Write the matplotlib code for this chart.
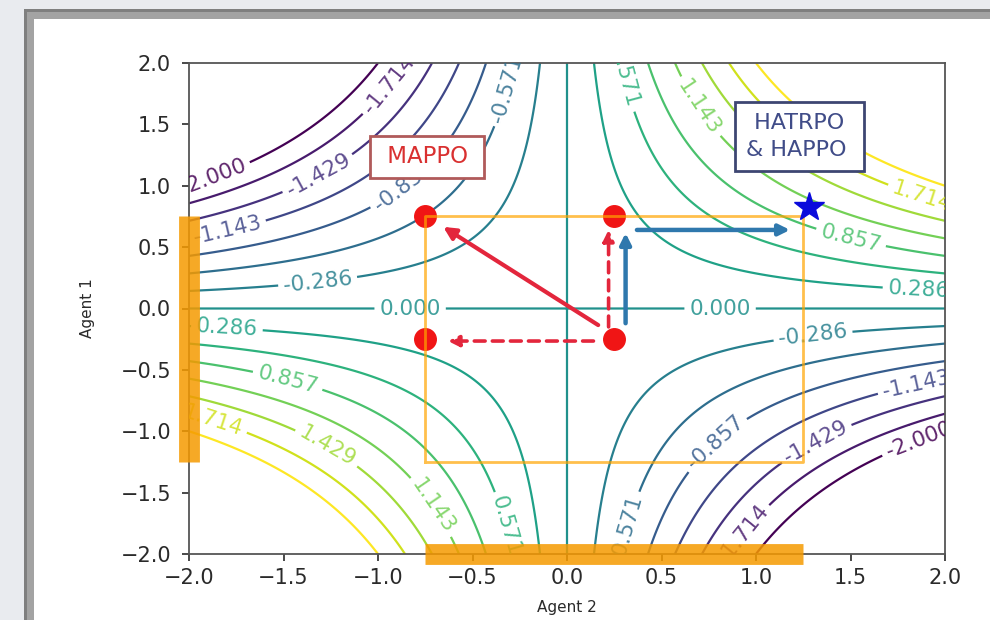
import numpy as np
import matplotlib
matplotlib.use("Agg")
import matplotlib.pyplot as plt
from matplotlib.patches import Rectangle

# ---- data ----
grid_x = np.linspace(-2, 2, 400)          # Agent 2 axis
grid_y = np.linspace(-2, 2, 400)          # Agent 1 axis
levels = np.linspace(-2, 2, 15)
ticks = [-2.0, -1.5, -1.0, -0.5, 0.0, 0.5, 1.0, 1.5, 2.0]

rect_x = [-0.75, 1.25]                    # Agent 2 trust region
rect_y = [-1.25, 0.75]                    # Agent 1 trust region

dots_x = [-0.75, 0.25, -0.75, 0.25]
dots_y = [0.75, 0.75, -0.25, -0.25]
star_x = [1.28]
star_y = [0.83]

# arrows: (tail_x, tail_y, head_x, head_y)
red_solid = [(0.165, -0.135, -0.655, 0.665)]
red_dashed = [(0.14, -0.265, -0.63, -0.265), (0.22, -0.15, 0.22, 0.64)]
blue_solid = [(0.31, -0.12, 0.31, 0.615), (0.37, 0.64, 1.18, 0.64)]

mappo_pos = (-0.74, 1.235)
hatrpo_pos = (1.23, 1.40)

label_spots = [(-1.86, 1.02), (-1.32, 1.10), (-0.92, 1.80), (-0.34, 1.80),
               (-0.85, 0.97), (-1.80, 0.66), (-1.32, 0.23), (-0.83, 0.0),
               (-1.80, -0.175), (-1.48, -0.60), (-1.27, -1.13), (-0.72, -1.62),
               (-0.34, -1.78), (-1.88, -0.95), (0.81, 0.0), (1.30, -0.20),
               (0.32, -1.80), (0.77, -1.07), (1.32, -1.10), (1.85, -0.63),
               (1.86, -1.07), (0.92, -1.83), (0.32, 1.89), (0.70, 1.64),
               (1.50, 0.56), (1.86, 0.16), (1.88, 0.92)]

# ---- figure ----
fig = plt.figure(figsize=(9.9, 6.2), dpi=100)
fig.patch.set_facecolor('#e9ebef')
W, H = 990.0, 620.0
fig.add_artist(Rectangle((24 / W, -0.1), 1.2, 1 - 9 / H + 0.1, transform=fig.transFigure,
                         facecolor='#7f7f7f', edgecolor='none', zorder=-12))
fig.add_artist(Rectangle((27 / W, -0.1), 1.2, 1 - 12 / H + 0.1, transform=fig.transFigure,
                         facecolor='#a3a3a3', edgecolor='none', zorder=-11))
fig.add_artist(Rectangle((34 / W, -0.1), 1.2, 1 - 19 / H + 0.1, transform=fig.transFigure,
                         facecolor='white', edgecolor='none', zorder=-10))

ax = fig.add_axes([189 / W, 1 - 554 / H, (945 - 189) / W, (554 - 63) / H])

X, Y = np.meshgrid(grid_x, grid_y)
Z = X * Y
cs = ax.contour(X, Y, Z, levels=levels, cmap='viridis', linewidths=1.6, zorder=1)
labels = ax.clabel(cs, fmt='%.3f', fontsize=15.5, inline=True, manual=label_spots)
for t in labels:
    t.set_alpha(0.85)

# trust region rectangle
ax.plot([rect_x[0], rect_x[1], rect_x[1], rect_x[0], rect_x[0]],
        [rect_y[0], rect_y[0], rect_y[1], rect_y[1], rect_y[0]],
        color='orange', lw=2.0, alpha=0.7, zorder=5)
# thick bars on axes
ax.plot(rect_x, [-2, -2], color='#f59a00', lw=15, alpha=0.85, solid_capstyle='butt',
        clip_on=False, zorder=6)
ax.plot([-2, -2], rect_y, color='#f59a00', lw=15, alpha=0.85, solid_capstyle='butt',
        clip_on=False, zorder=6)

# points
ax.plot(dots_x, dots_y, 'o', color='#f01515', markersize=15.5, zorder=4, linestyle='none')
ax.plot(star_x, star_y, '*', color='#0a0adc', markersize=22, zorder=7, linestyle='none')

# arrows
for tx, ty, hx, hy in red_solid:
    ax.annotate('', xy=(hx, hy), xytext=(tx, ty),
                arrowprops=dict(arrowstyle='-|>', color='#e3263c', lw=3,
                                mutation_scale=18, shrinkA=0, shrinkB=0), zorder=6)
for tx, ty, hx, hy in red_dashed:
    ax.annotate('', xy=(hx, hy), xytext=(tx, ty),
                arrowprops=dict(arrowstyle='-|>', color='#e3263c', lw=2.6, linestyle=(0, (3, 2)),
                                mutation_scale=16, shrinkA=0, shrinkB=0), zorder=6)
for tx, ty, hx, hy in blue_solid:
    ax.annotate('', xy=(hx, hy), xytext=(tx, ty),
                arrowprops=dict(arrowstyle='-|>', color='#2f78ad', lw=3.2,
                                mutation_scale=16, shrinkA=0, shrinkB=0), zorder=6)

# labels in boxes
ax.text(mappo_pos[0], mappo_pos[1], ' MAPPO ', color='#d93030', fontsize=16.5,
        ha='center', va='center', zorder=8,
        bbox=dict(boxstyle='square,pad=0.42', facecolor='white', edgecolor='#b05a5a', lw=2))
ax.text(hatrpo_pos[0], hatrpo_pos[1], ' HATRPO \n& HAPPO ', color='#404c88', fontsize=16,
        ha='center', va='center', zorder=8, multialignment='center', linespacing=1.4,
        bbox=dict(boxstyle='square,pad=0.5', facecolor='white', edgecolor='#3d4672', lw=2))

ax.set_xlim(-2, 2)
ax.set_ylim(-2, 2)
ax.set_xticks(ticks)
ax.set_yticks(ticks)
ax.tick_params(labelsize=15, colors='#2a2a2a', width=1.2, length=5)
ax.tick_params(axis='y', pad=8)
ax.tick_params(axis='x', pad=5)
for s in ax.spines.values():
    s.set_linewidth(1.3)
    s.set_color('#555555')
ax.set_xlabel('Agent 2', fontsize=11, labelpad=9, color='#2a2a2a')
ax.set_ylabel('Agent 1', fontsize=11, labelpad=18, color='#2a2a2a')

fig.savefig('out.png', dpi=100, facecolor=fig.get_facecolor())
